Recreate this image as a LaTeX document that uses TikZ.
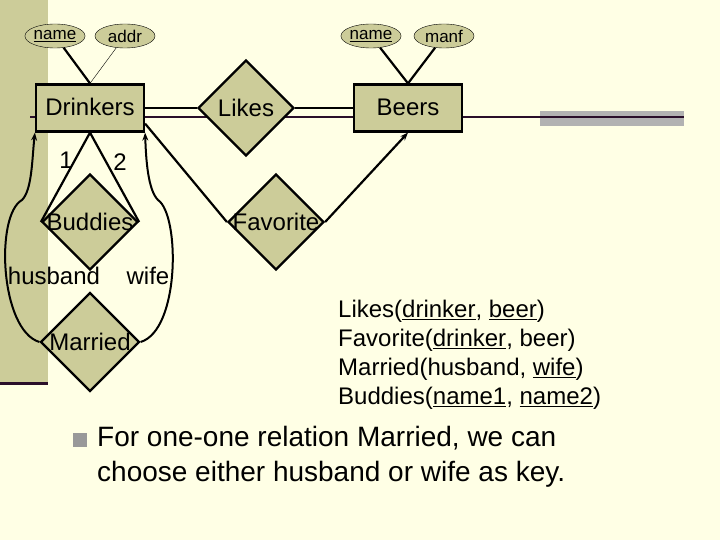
\documentclass[tikz,border=0pt]{standalone}
\usepackage{fontspec}
\setmainfont{Liberation Sans}
\usetikzlibrary{positioning}
\usetikzlibrary{shapes.geometric}
\usetikzlibrary{arrows.meta}
\definecolor{paper}{HTML}{FFFFE5}
\definecolor{olive}{HTML}{CCCC99}
\definecolor{slide}{HTML}{2A0F2A}
\tikzset{>={Stealth[length=8pt,width=6pt]}}
\tikzset{ent/.style={draw,line width=2.2pt,fill=olive,minimum width=108pt,minimum height=47pt,inner sep=0pt,text height=16pt,text depth=1pt,font=\fontsize{24}{28}\selectfont}}
\tikzset{rel/.style={draw,line width=2.2pt,fill=olive,diamond,minimum width=96pt,minimum height=96pt,inner sep=0pt,font=\fontsize{24}{28}\selectfont}}
\tikzset{attr/.style={draw,ellipse,fill=olive,minimum width=60pt,minimum height=24pt,inner sep=0pt,font=\fontsize{17}{20}\selectfont}}
\tikzset{lbl/.style={inner sep=0pt,font=\fontsize{24}{28}\selectfont}}
\begin{document}
\begin{tikzpicture}[x=1pt,y=-1pt]
\useasboundingbox (0,0) rectangle (720,540);
\fill[paper] (0,0) rectangle (720,540);
\fill[olive] (0,0) rectangle (48,383);
\draw[slide,line width=3pt] (0,383) -- (48,383);
\fill[black!30] (540,111) rectangle (684,126);
\draw[slide,line width=2.5pt] (30,117) -- (684,117);

\node[ent] (drinkers) at (90,108) {Drinkers};
\node[ent] (beers) at (408,108) {Beers};
\node[rel] (likes) at (246,108) {Likes};
\node[rel] (buddies) at (90,222) {};
\node[rel] (favorite) at (276,222) {};
\node[rel] (married) at (90,342) {Married};

\node[attr] (dname) at (55,36) {\underline{name}};
\node[attr] (addr) at (125,36) {addr};
\node[attr] (bname) at (371,36) {\underline{name}};
\node[attr] (manf) at (444,36) {manf};

\draw[line width=2.2pt] (dname) -- (drinkers.north);
\draw (addr) -- (drinkers.north);
\draw[line width=2.2pt] (bname) -- (beers.north);
\draw[line width=2.2pt] (manf) -- (beers.north);

\draw[line width=2.2pt] (drinkers.east) -- (likes.west);
\draw[line width=2.2pt] (likes.east) -- (beers.west);

\draw[line width=2.2pt] (drinkers.south) -- (buddies.west);
\draw[line width=2.2pt] (drinkers.south) -- (buddies.east);
\node[lbl] (one) at (66,160) {1};
\node[lbl] (two) at (120,162) {2};

\draw[line width=2.2pt] (drinkers.south east) ++(0,-9) coordinate (dfav) -- (favorite.west);
\draw[line width=2.2pt,->] (favorite.east) -- (beers.south);

\draw[line width=2pt,->] (married.west) .. controls (0,330) and (-5,215) .. (22,200)
 .. controls (32,190) and (32,160) .. (drinkers.south west);
\draw[line width=2pt,->] (married.east) .. controls (180,330) and (180,215) .. (158,200)
 .. controls (148,190) and (146,160) .. (drinkers.south east);

\node[lbl] (budlbl) at (buddies) {Buddies};
\node[lbl] (favlbl) at (favorite) {Favorite};
\node[lbl] (husband) at (54,276) {husband};
\node[lbl] (wife) at (148,276) {wife};

\node[lbl,anchor=north west,align=left,font=\fontsize{24}{29}\selectfont] (schema) at (338,300)
 {Likes(\underline{drinker}, \underline{beer})\\
  Favorite(\underline{drinker}, beer)\\
  Married(husband, \underline{wife})\\
  Buddies(\underline{name1}, \underline{name2})};

\fill[black!40] (73,433) rectangle (87,447);
\node[lbl,anchor=north west,align=left,font=\fontsize{28}{35}\selectfont] (note) at (97,426)
 {For one-one relation Married, we can\\choose either husband or wife as key.};
\end{tikzpicture}
\end{document}
